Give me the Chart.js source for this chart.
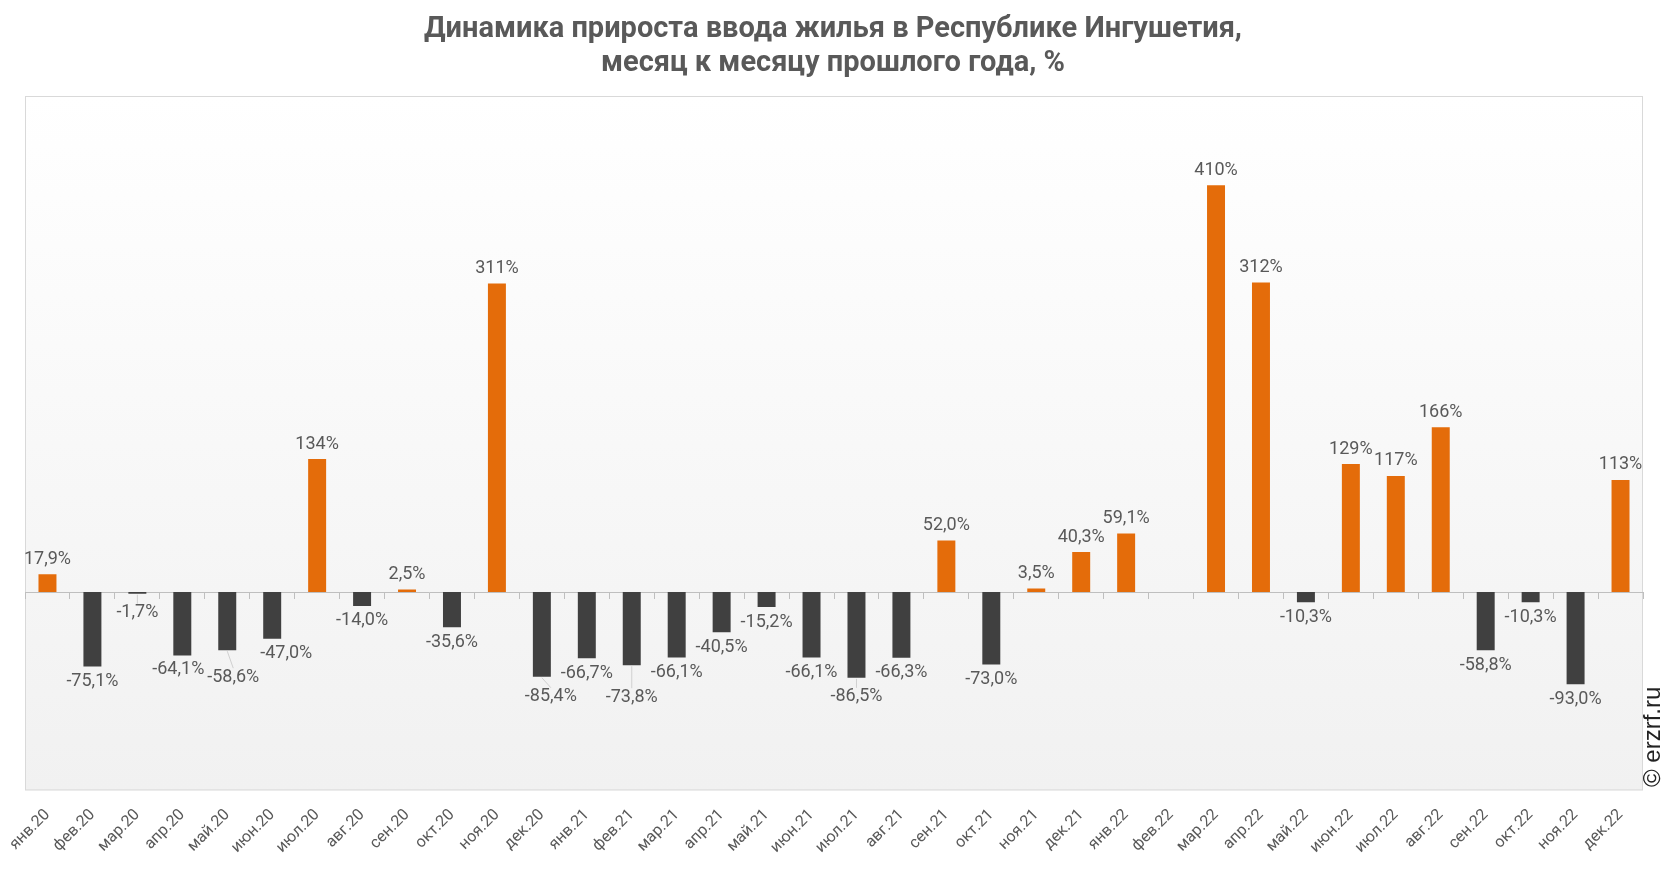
<!DOCTYPE html>
<html lang="ru">
<head>
<meta charset="UTF-8" />
<title>Динамика прироста ввода жилья в Республике Ингушетия</title>
<script src="https://cdn.jsdelivr.net/npm/chart.js"></script>
<style>
  body { margin: 0; background: #fff; font-family: Roboto, sans-serif; }
  #wrap { position: relative; width: 1666px; height: 872px; }
  #title {
    position: absolute; top: 10px; left: 0; width: 100%;
    text-align: center; font-weight: 700; font-size: 29px; line-height: 34px; color: #595959;
  }
  #copy {
    position: absolute; left: 1640px; top: 787px;
    transform-origin: 0 0; transform: rotate(-90deg);
    font-family: "Liberation Sans", Arial, sans-serif; font-size: 24px; line-height: 24px;
    white-space: nowrap; color: #222;
  }
</style>
</head>
<body>
<div id="wrap">
  <canvas id="chart" width="1666" height="872"></canvas>
  <div id="title">Динамика прироста ввода жилья в Республике Ингушетия,<br>месяц к месяцу прошлого года, %</div>
  <div id="copy">© erzrf.ru</div>
</div>

<script>
const months = [
  'янв.20', 'фев.20', 'мар.20', 'апр.20', 'май.20', 'июн.20', 'июл.20', 'авг.20', 'сен.20', 'окт.20', 'ноя.20', 'дек.20',
  'янв.21', 'фев.21', 'мар.21', 'апр.21', 'май.21', 'июн.21', 'июл.21', 'авг.21', 'сен.21', 'окт.21', 'ноя.21', 'дек.21',
  'янв.22', 'фев.22', 'мар.22', 'апр.22', 'май.22', 'июн.22', 'июл.22', 'авг.22', 'сен.22', 'окт.22', 'ноя.22', 'дек.22'
];

const growth = [
  17.9, -75.1, -1.7, -64.1, -58.6, -47.0, 134, -14.0, 2.5, -35.6, 311, -85.4,
  -66.7, -73.8, -66.1, -40.5, -15.2, -66.1, -86.5, -66.3, 52.0, -73.0, 3.5, 40.3,
  59.1, null, 410, 312, -10.3, 129, 117, 166, -58.8, -10.3, -93.0, 113
];

const ORANGE = '#e46c0a';
const DARK = '#404040';

// small label shifts [dx, dy] where the original moved labels off the bar
const labelNudge = { 2: [0, 4], 3: [-4, -1], 4: [6, 12], 5: [14, 0], 11: [9, 5], 13: [0, 17], 18: [0, 4] };

function fmt(v) {
  if (Math.abs(v) >= 100) return Math.round(v) + '%';
  return v.toFixed(1).replace('.', ',') + '%';
}

const plotBg = {
  id: 'plotBg',
  beforeDraw(chart) {
    const { ctx, chartArea: a } = chart;
    const g = ctx.createLinearGradient(0, a.top, 0, a.bottom);
    g.addColorStop(0, '#ffffff');
    g.addColorStop(1, '#f1f1f1');
    ctx.save();
    ctx.fillStyle = g;
    ctx.fillRect(a.left, a.top, a.right - a.left, a.bottom - a.top);
    ctx.strokeStyle = '#d9d9d9';
    ctx.lineWidth = 1;
    ctx.strokeRect(a.left + 0.5, a.top + 0.5, a.right - a.left - 1, a.bottom - a.top - 1);
    ctx.restore();
  }
};

const barLabels = {
  id: 'barLabels',
  afterDatasetsDraw(chart) {
    const { ctx } = chart;
    const meta = chart.getDatasetMeta(0);
    ctx.save();
    ctx.font = '18px Roboto';
    ctx.fillStyle = '#595959';
    ctx.textAlign = 'center';
    ctx.textBaseline = 'middle';
    meta.data.forEach((bar, i) => {
      const v = growth[i];
      if (v === null || v === undefined) return;
      const [dx, dy] = labelNudge[i] || [0, 0];
      const lx = bar.x + dx;
      const ly = (v >= 0 ? bar.y - 15 : bar.y + 15) + dy;
      if (dy >= 4) {
        ctx.strokeStyle = '#d0d0d0';
        ctx.lineWidth = 1;
        ctx.beginPath();
        ctx.moveTo(bar.x, bar.y + 1);
        ctx.lineTo(lx, ly - 9);
        ctx.stroke();
      }
      ctx.fillText(fmt(v), lx, ly);
    });
    ctx.restore();
  }
};

new Chart(document.getElementById('chart'), {
  type: 'bar',
  data: {
    labels: months,
    datasets: [{
      data: growth,
      backgroundColor: growth.map(v => (v >= 0 ? ORANGE : DARK)),
      categoryPercentage: 0.8,
      barPercentage: 0.5
    }]
  },
  options: {
    responsive: false,
    animation: false,
    devicePixelRatio: 1,
    layout: { padding: { top: 96, left: 25, right: 23, bottom: 8 } },
    plugins: { legend: { display: false }, tooltip: { enabled: false } },
    scales: {
      x: {
        grid: { display: false },
        border: { display: false },
        ticks: {
          color: '#595959',
          font: { family: 'Roboto', size: 16 },
          minRotation: 45,
          maxRotation: 45,
          padding: 7
        }
      },
      xZero: {
        type: 'category',
        position: { y: 0 },
        offset: true,
        grid: { offset: true, drawOnChartArea: false, tickLength: 6, color: '#bfbfbf' },
        border: { display: true, color: '#bfbfbf' },
        ticks: { display: false }
      },
      y: {
        display: false,
        min: -200,
        max: 500
      }
    }
  },
  plugins: [plotBg, barLabels]
});
</script>
</body>
</html>
